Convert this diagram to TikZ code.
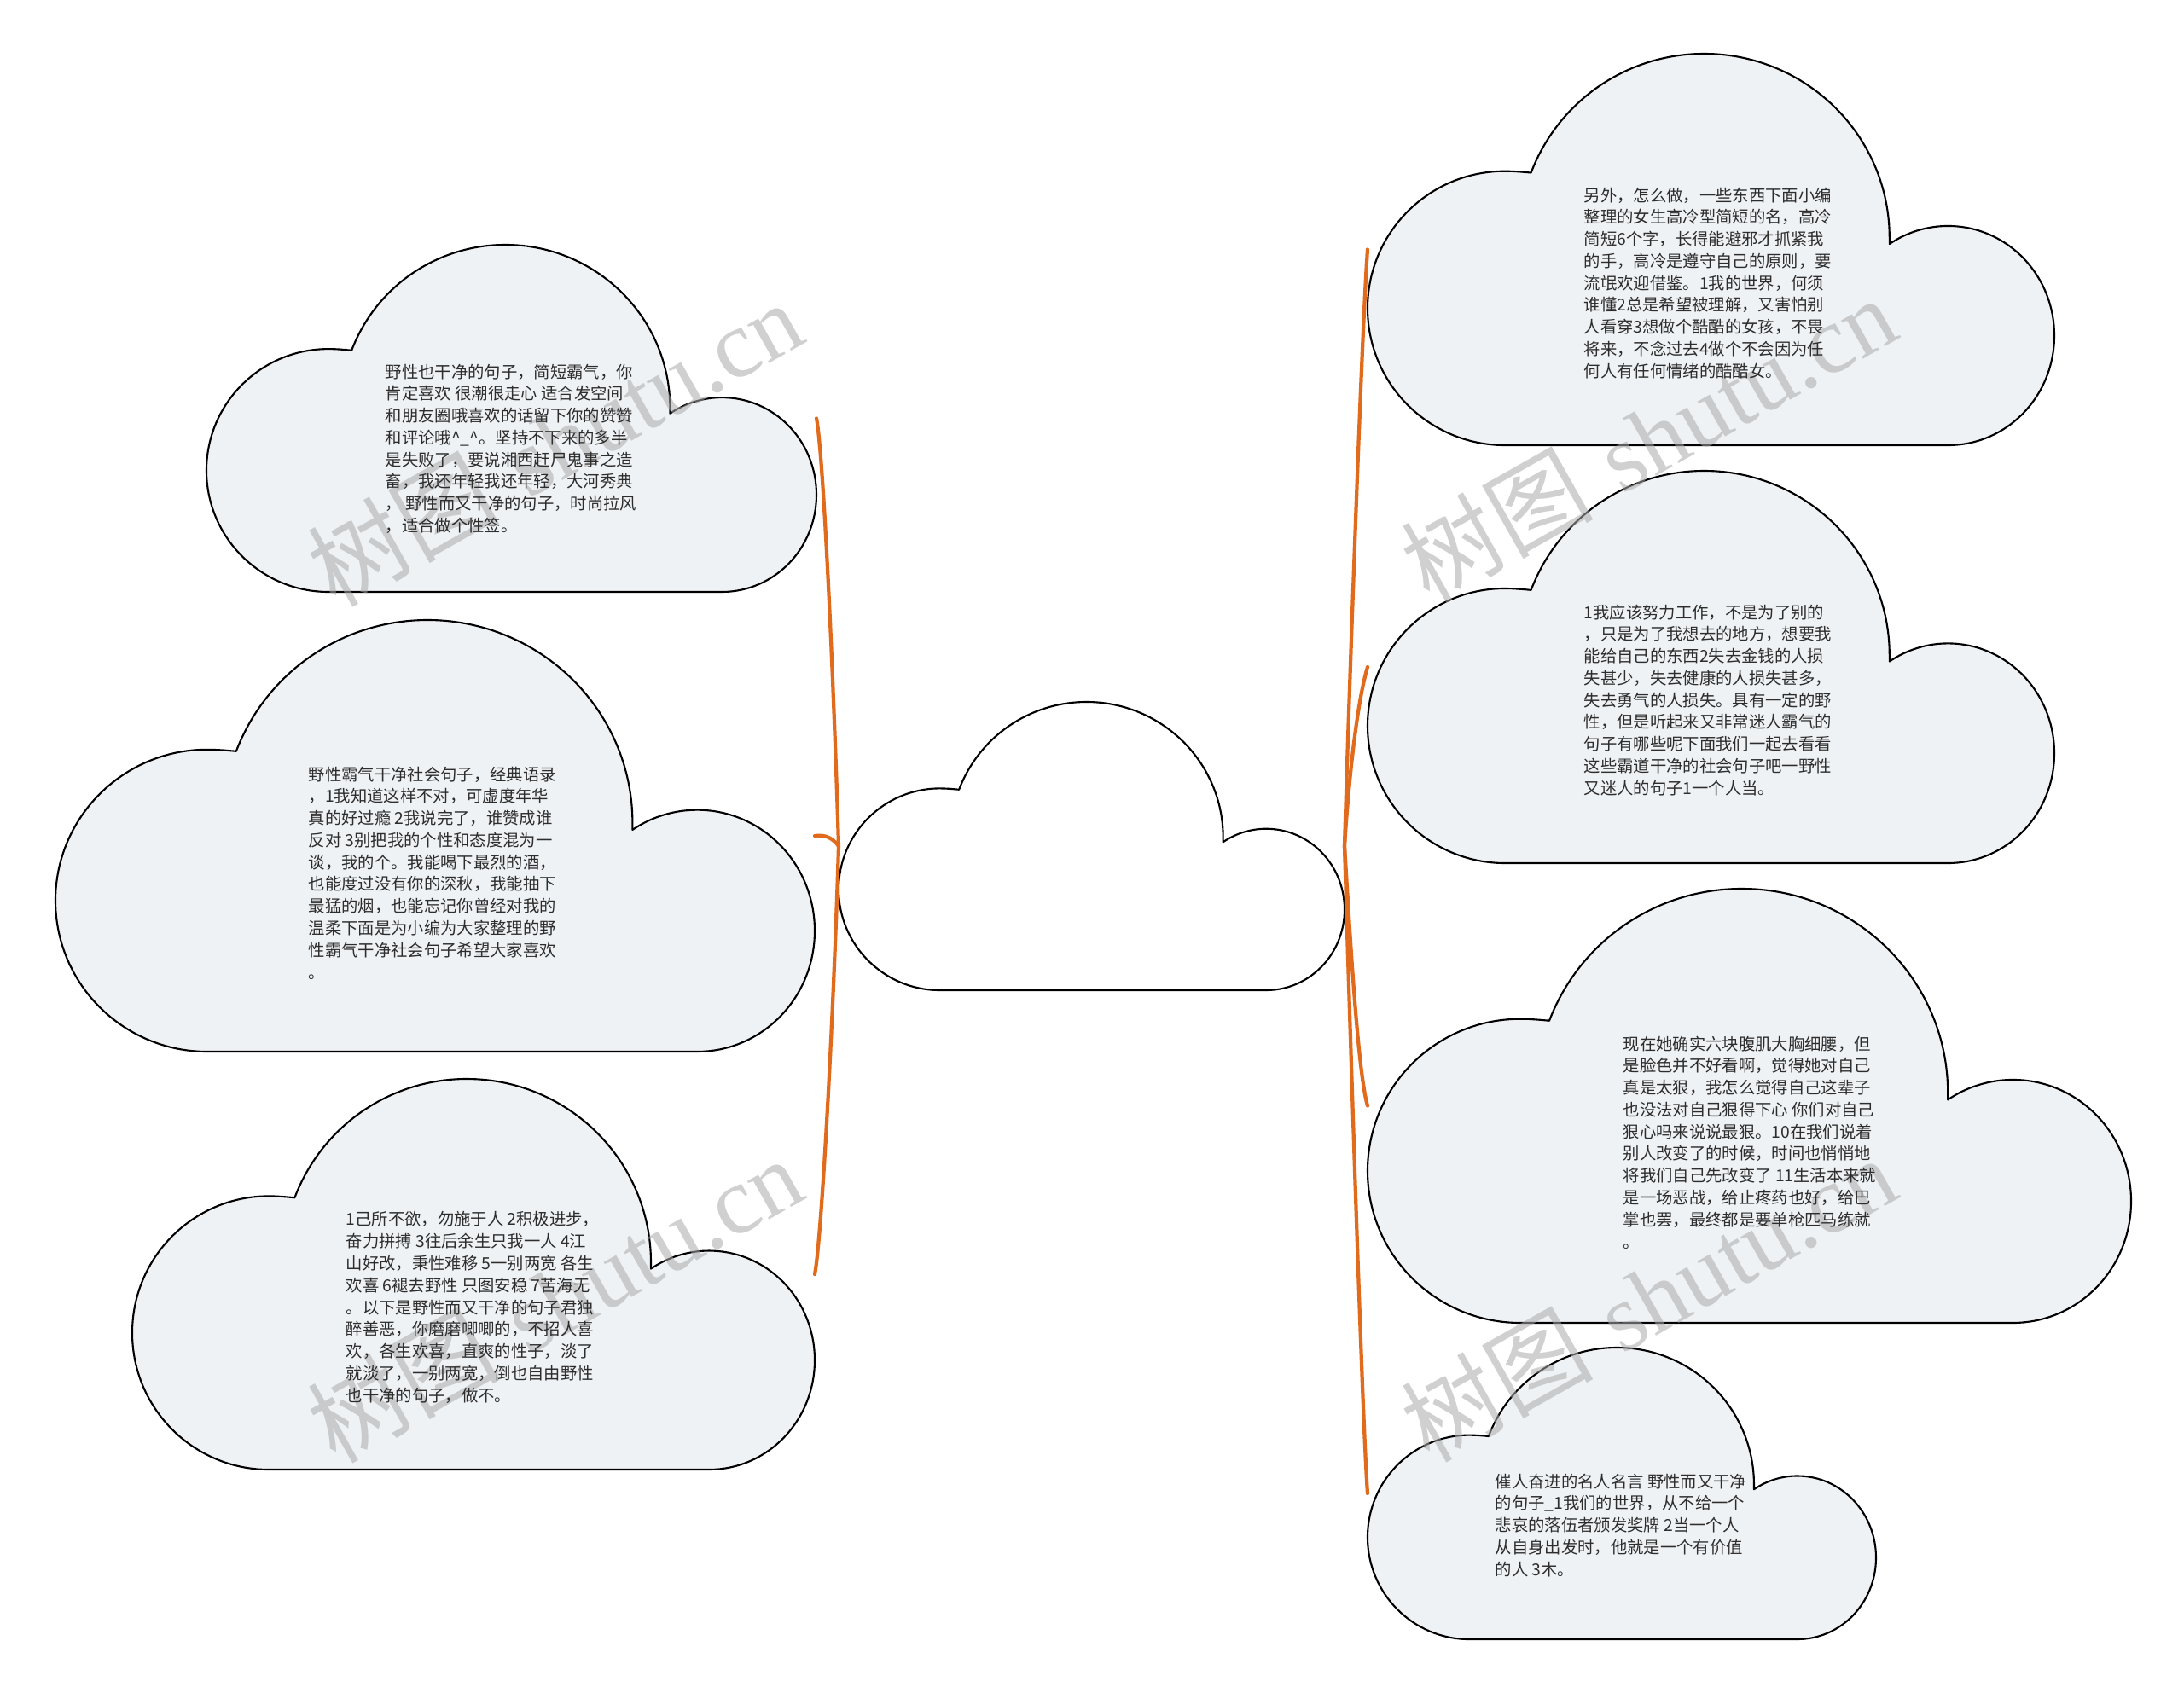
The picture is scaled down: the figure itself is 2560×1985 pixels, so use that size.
\documentclass[tikz,border=0pt]{standalone}
\usepackage{fontspec}
\newfontfamily\cjk{Noto Sans CJK SC}
\newfontfamily\wmserif{Liberation Serif}
\usetikzlibrary{calc}
\definecolor{cloudfill}{RGB}{239,242,245}
\definecolor{branch}{RGB}{226,106,28}
\definecolor{txtc}{RGB}{45,45,45}
\definecolor{wmc}{RGB}{170,170,170}
\tikzset{
  cloudline/.style={draw=black, line width=0.6pt, line join=round},
  bbox/.style={draw=none, inner sep=0pt, outer sep=0pt, rectangle},
  txt/.style={anchor=north west, inner sep=0pt, align=left, text=txtc,
    font=\cjk\fontsize{5.5pt}{7.33pt}\selectfont},
  wm/.style={text=wmc, opacity=0.55, inner sep=0pt, rotate=29.5,
    font=\fontsize{32pt}{32pt}\selectfont},
  conn/.style={draw=branch, line width=1.2pt, line cap=round}
}
\newcommand\cloudnode[6]{%
  \begin{scope}[shift={(#2,#3)}, x={(#4*0.01cm,0cm)}, y={(0cm,-#5*0.01cm)}]
    \path[cloudline, fill=#6] (0.2,1) -- (0.845,1)
      .. controls (0.931,1) and (1,0.875) .. (1,0.72)
      .. controls (1,0.565) and (0.931,0.44) .. (0.845,0.44)
      .. controls (0.815,0.44) and (0.785,0.456) .. (0.76,0.486)
      -- (0.76,0.47)
      .. controls (0.76,0.21) and (0.639,0) .. (0.49,0)
      .. controls (0.378,0) and (0.278,0.12) .. (0.238,0.304)
      .. controls (0.2255,0.302) and (0.213,0.3) .. (0.2,0.3)
      .. controls (0.0895,0.3) and (0,0.4567) .. (0,0.65)
      .. controls (0,0.8433) and (0.0895,1) .. (0.2,1) -- cycle;
  \end{scope}
  \node[bbox, minimum width=#4*0.01cm, minimum height=#5*0.01cm] (#1) at (#2+#4/2,#3+#5/2) {};
}
\begin{document}
\begin{tikzpicture}[x=0.01cm, y=-0.01cm]
\useasboundingbox (0,0) rectangle (2560,1985);
\fill[white] (0,0) rectangle (2560,1985);

% clouds
\cloudnode{C}{983}{823}{593}{338}{white}
\cloudnode{L1}{242}{287}{715}{407}{cloudfill}
\cloudnode{L2}{65}{727}{890}{506}{cloudfill}
\cloudnode{L3}{155}{1265}{800}{458}{cloudfill}
\cloudnode{R1}{1603}{63}{805}{459}{cloudfill}
\cloudnode{R2}{1603}{552}{805}{460}{cloudfill}
\cloudnode{R3}{1603}{1042}{895}{509}{cloudfill}
\cloudnode{R4}{1603}{1580}{596}{342}{cloudfill}

% connectors left
\draw[conn] (C.west) .. controls ($(C.west)+(-6,-200)$) and ($(L1.east)+(8,40)$) .. (L1.east);
\draw[conn] (C.west) .. controls ($(C.west)+(-6,-8)$) and ($(L2.east)+(14,-2)$) .. (L2.east);
\draw[conn] (C.west) .. controls ($(C.west)+(-6,200)$) and ($(L3.east)+(8,-40)$) .. (L3.east);
% connectors right
\draw[conn] (C.east) .. controls ($(C.east)+(6,-200)$) and ($(R1.west)+(-6,80)$) .. (R1.west);
\draw[conn] (C.east) .. controls ($(C.east)+(5,-80)$) and ($(R2.west)+(-12,40)$) .. (R2.west);
\draw[conn] (C.east) .. controls ($(C.east)+(5,80)$) and ($(R3.west)+(-12,-40)$) .. (R3.west);
\draw[conn] (C.east) .. controls ($(C.east)+(6,200)$) and ($(R4.west)+(-6,-80)$) .. (R4.west);

% watermarks
\node[wm] (w1) at (650,519) {{\cjk 树图} {\wmserif shutu.cn}};
\node[wm] (w2) at (650,1523) {{\cjk 树图} {\wmserif shutu.cn}};
\node[wm] (w3) at (1932,514) {{\cjk 树图} {\wmserif shutu.cn}};
\node[wm] (w4) at (1932,1522) {{\cjk 树图} {\wmserif shutu.cn}};

% texts
\node[txt] (t1) at (451,426) {野性也干净的句子，简短霸气，你\\
肯定喜欢 很潮很走心 适合发空间\\
和朋友圈哦喜欢的话留下你的赞赞\\
和评论哦\^{}\_\^{}。坚持不下来的多半\\
是失败了，要说湘西赶尸鬼事之造\\
畜，我还年轻我还年轻，大河秀典\\
， 野性而又干净的句子，时尚拉风\\
，适合做个性签。};

\node[txt] (t2) at (361,898) {野性霸气干净社会句子，经典语录\\
，1我知道这样不对，可虚度年华\\
真的好过瘾 2我说完了，谁赞成谁\\
反对 3别把我的个性和态度混为一\\
谈，我的个。我能喝下最烈的酒，\\
也能度过没有你的深秋，我能抽下\\
最猛的烟，也能忘记你曾经对我的\\
温柔下面是为小编为大家整理的野\\
性霸气干净社会句子希望大家喜欢\\
。};

\node[txt] (t3) at (405,1420) {1己所不欲，勿施于人 2积极进步，\\
奋力拼搏 3往后余生只我一人 4江\\
山好改，秉性难移 5一别两宽 各生\\
欢喜 6褪去野性 只图安稳 7苦海无\\
。以下是野性而又干净的句子君独\\
醉善恶，你磨磨唧唧的，不招人喜\\
欢，各生欢喜，直爽的性子，淡了\\
就淡了，一别两宽，倒也自由野性\\
也干净的句子，做不。};

\node[txt] (t4) at (1856,219) {另外，怎么做，一些东西下面小编\\
整理的女生高冷型简短的名，高冷\\
简短6个字，长得能避邪才抓紧我\\
的手，高冷是遵守自己的原则，要\\
流氓欢迎借鉴。1我的世界，何须\\
谁懂2总是希望被理解，又害怕别\\
人看穿3想做个酷酷的女孩，不畏\\
将来，不念过去4做个不会因为任\\
何人有任何情绪的酷酷女。};

\node[txt] (t5) at (1856,708) {1我应该努力工作，不是为了别的\\
，只是为了我想去的地方，想要我\\
能给自己的东西2失去金钱的人损\\
失甚少，失去健康的人损失甚多，\\
失去勇气的人损失。具有一定的野\\
性，但是听起来又非常迷人霸气的\\
句子有哪些呢下面我们一起去看看\\
这些霸道干净的社会句子吧一野性\\
又迷人的句子1一个人当。};

\node[txt] (t6) at (1902,1214) {现在她确实六块腹肌大胸细腰，但\\
是脸色并不好看啊，觉得她对自己\\
真是太狠，我怎么觉得自己这辈子\\
也没法对自己狠得下心 你们对自己\\
狠心吗来说说最狠。10在我们说着\\
别人改变了的时候，时间也悄悄地\\
将我们自己先改变了 11生活本来就\\
是一场恶战，给止疼药也好，给巴\\
掌也罢，最终都是要单枪匹马练就\\
。};

\node[txt] (t7) at (1752,1727) {催人奋进的名人名言 野性而又干净\\
的句子\_1我们的世界，从不给一个\\
悲哀的落伍者颁发奖牌 2当一个人\\
从自身出发时，他就是一个有价值\\
的人 3木。};
\end{tikzpicture}
\end{document}
